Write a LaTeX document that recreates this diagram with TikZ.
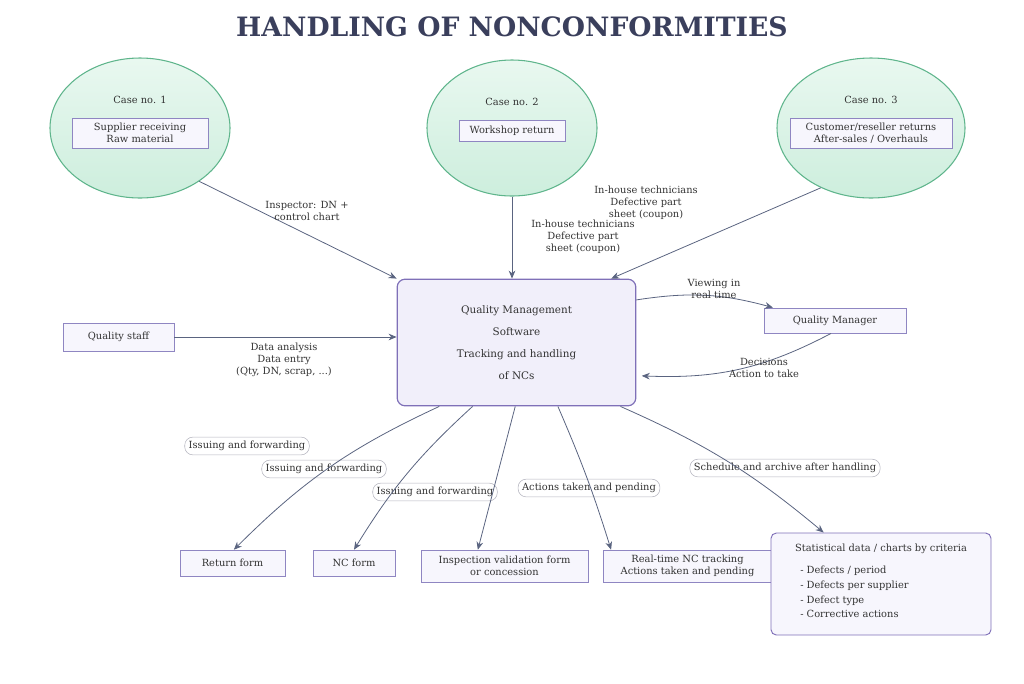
\documentclass[tikz,border=0pt]{standalone}
\usepackage{fontspec}
\setmainfont{DejaVu Serif}
\usetikzlibrary{arrows.meta}
\usetikzlibrary{shapes.geometric}
\definecolor{titlecol}{HTML}{3A3F5C}
\definecolor{txtcol}{HTML}{333333}
\definecolor{edgecol}{HTML}{5A6480}
\definecolor{boxline}{HTML}{8F86C2}
\definecolor{boxfill}{HTML}{F7F6FD}
\definecolor{mainfill}{HTML}{F1EFFA}
\definecolor{mainline}{HTML}{7F70B8}
\definecolor{grnline}{HTML}{5FB58C}
\definecolor{grntop}{HTML}{E9F8F0}
\definecolor{grnbot}{HTML}{CDEEDD}
\definecolor{pillline}{HTML}{B4B4BE}
\tikzset{
  every node/.style={font=\fontsize{7.4}{8.8}\selectfont, text=txtcol},
  case/.style={ellipse, draw=grnline, line width=0.8pt, top color=grntop, bottom color=grnbot},
  sbox/.style={draw=boxline, fill=boxfill, align=center, inner sep=1pt},
  pill/.style={draw=pillline, fill=white, rounded corners=6pt, inner sep=3pt},
  lbl/.style={align=center, inner sep=1pt},
  flow/.style={draw=edgecol, -{Stealth[length=6pt,width=5pt]}, line width=0.6pt},
}
\begin{document}
\begin{tikzpicture}[x=0.75pt, y=-0.75pt]
\useasboundingbox (0,0) rectangle (1024,683);

\node[font=\bfseries\fontsize{20}{22}\selectfont, text=titlecol] (title) at (512,27) {HANDLING OF NONCONFORMITIES};

% cases
\node[case, minimum width=135pt, minimum height=105pt] (case1) at (140,128) {};
\node[case, minimum width=127.5pt, minimum height=102pt] (case2) at (512,128) {};
\node[case, minimum width=141pt, minimum height=105pt] (case3) at (871,128) {};
\node (c1t) at (140,100) {Case no. 1};
\node (c2t) at (512,102) {Case no. 2};
\node (c3t) at (871,100) {Case no. 3};
\node[sbox, minimum width=102pt, minimum height=22.5pt] (src1) at (140,133) {Supplier receiving\\Raw material};
\node[sbox, minimum width=79.5pt, minimum height=16pt] (src2) at (512,131) {Workshop return};
\node[sbox, minimum width=121.5pt, minimum height=22.5pt] (src3) at (871,133) {Customer/reseller returns\\After-sales / Overhauls};

% software
\node[draw=mainline, fill=mainfill, line width=0.9pt, rounded corners=6pt, minimum width=179pt, minimum height=95pt, align=center, font=\fontsize{7.8}{9}\selectfont] (qms) at (516.5,342.5)
  {Quality Management\\[7.5pt]Software\\[7.5pt]Tracking and handling\\[7.5pt]of NCs};

\node[sbox, minimum width=83pt, minimum height=21pt] (staff) at (118.5,337) {Quality staff};
\node[sbox, minimum width=106.5pt, minimum height=19pt] (qmgr) at (835,320.5) {Quality Manager};

% outputs
\node[sbox, minimum width=79pt, minimum height=19.5pt] (ret) at (232.5,563) {Return form};
\node[sbox, minimum width=61.5pt, minimum height=19.5pt] (ncf) at (354,563) {NC form};
\node[sbox, minimum width=125pt, minimum height=24pt] (insp) at (504.5,566) {Inspection validation form\\or concession};
\node[sbox, minimum width=127pt, minimum height=24pt] (rtt) at (687.5,566) {Real-time NC tracking\\Actions taken and pending};
\node[draw=mainline, fill=boxfill, line width=0.7pt, rounded corners=4pt, minimum width=165pt, minimum height=76.5pt] (stat) at (881,584) {};
\node (statt) at (881,549) {Statistical data / charts by criteria};
\node[anchor=west, align=left, inner sep=0pt, font=\fontsize{7.4}{11}\selectfont] (statl) at (800,592)
  {- Defects / period\\- Defects per supplier\\- Defect type\\- Corrective actions};

% inputs
\draw[flow] (case1.-42) -- (qms.north west) ;
\draw[flow] (case2.south) -- (qms.north -| case2.south);
\draw[flow] (case3.-130) -- ([xshift=161pt]qms.north west);
\draw[flow] (staff.east) -- (qms.west |- staff.east);
\draw[flow] ([yshift=-16pt]qms.north east) to[bend left=12] ([xshift=-100pt]qmgr.north east);
\draw[flow] ([xshift=-3pt]qmgr.south) to[bend left=15] ([xshift=4pt, yshift=-25pt]qms.east);

\node[lbl] (l1) at (307,211) {Inspector: DN +\\control chart};
\node[lbl] (l2) at (583,237) {In-house technicians\\Defective part\\sheet (coupon)};
\node[lbl] (l3) at (646,203) {In-house technicians\\Defective part\\sheet (coupon)};
\node[lbl] (l4) at (284,360) {Data analysis\\Data entry\\(Qty, DN, scrap, ...)};
\node[lbl] (l5) at (714,289) {Viewing in\\real time};
\node[lbl] (l6) at (764,368) {Decisions\\Action to take};

% labels on outputs, lines drawn over them
\node[pill] (p1) at (247,446) {Issuing and forwarding};
\node[pill] (p2) at (324,469) {Issuing and forwarding};
\node[pill] (p3) at (435,492) {Issuing and forwarding};
\node[pill] (p4) at (589,488) {Actions taken and pending};
\node[pill] (p5) at (785,468) {Schedule and archive after handling};

\draw[flow] ([xshift=32pt]qms.south west) to[bend right=10] ([xshift=1pt]ret.north);
\draw[flow] ([xshift=57pt]qms.south west) to[bend right=8] (ncf.north);
\draw[flow] ([xshift=89pt]qms.south west) -- ([xshift=-20pt]insp.north);
\draw[flow] ([xshift=121pt]qms.south west) to[bend left=3] ([xshift=-121pt]rtt.north east);
\draw[flow] ([xshift=-12pt]qms.south east) to[bend left=8] ([xshift=-43pt]stat.north);
\end{tikzpicture}
\end{document}
